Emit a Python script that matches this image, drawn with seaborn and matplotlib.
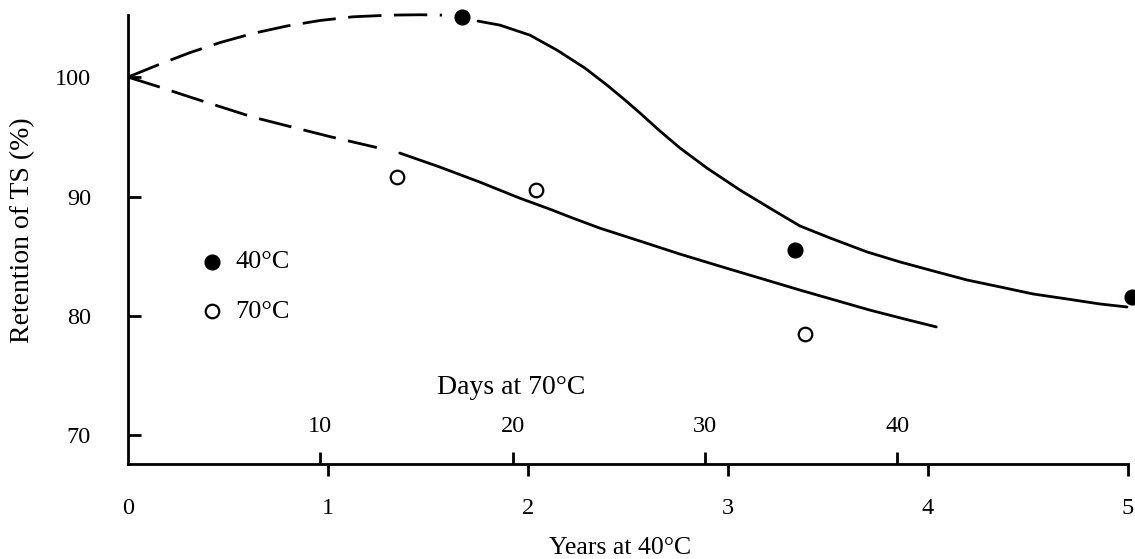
import numpy as np
import matplotlib
matplotlib.use("Agg")
import matplotlib.pyplot as plt
import seaborn as sns

# Time-scale equivalence between the two ageing temperatures
DAYS_PER_YEAR = 10.4

# Measured retention of tensile strength (%)
years_40c = [1.67, 3.335, 5.02]
retention_40c = [105.05, 85.5, 81.6]
days_70c = [14.0, 21.2, 35.2]
retention_70c = [91.6, 90.55, 78.45]

# Trend curve for 40 degC ageing (years): extrapolated part, then fitted part
trend40_dash_years = [0.0, 0.16, 0.31, 0.46, 0.625, 0.795, 0.96, 1.125,
                      1.31, 1.46, 1.57]
trend40_dash_ret = [100.0, 101.09, 102.05, 102.89, 103.66, 104.28, 104.74,
                    105.05, 105.19, 105.22, 105.19]
trend40_solid_years = [1.75, 1.86, 2.01, 2.145, 2.285, 2.395, 2.485, 2.56,
                       2.66, 2.76, 2.895, 3.06, 3.225, 3.36, 3.51, 3.695,
                       3.86, 4.025, 4.195, 4.36, 4.525, 4.695, 4.86, 4.995]
trend40_solid_ret = [104.69, 104.35, 103.51, 102.26, 100.75, 99.33, 98.08,
                     96.99, 95.48, 94.06, 92.38, 90.54, 88.87, 87.53, 86.53,
                     85.36, 84.52, 83.77, 83.01, 82.43, 81.84, 81.42, 81.0,
                     80.75]

# Trend curve for 70 degC ageing (days)
trend70_dash_days = [0.0, 1.66, 3.22, 4.78, 6.49, 8.42, 10.49, 12.94]
trend70_dash_ret = [100.0, 99.16, 98.33, 97.53, 96.65, 95.86, 95.02, 94.1]
trend70_solid_days = [14.13, 16.21, 18.29, 20.36, 21.92, 23.12, 24.52, 26.6,
                      28.68, 30.91, 32.83, 34.91, 36.73, 38.55, 40.36, 42.03]
trend70_solid_ret = [93.64, 92.47, 91.21, 89.87, 88.95, 88.2, 87.36, 86.28,
                     85.19, 84.1, 83.18, 82.18, 81.34, 80.5, 79.75, 79.08]

year_ticks = [0, 1, 2, 3, 4, 5]
day_ticks = [10, 20, 30, 40]
ret_ticks = [70, 80, 90, 100]

sns.set_theme(style="white")
plt.rcParams["font.family"] = ["Liberation Serif", "DejaVu Serif"]
plt.rcParams["text.color"] = "black"
plt.rcParams["axes.labelcolor"] = "black"
plt.rcParams["xtick.color"] = "black"
plt.rcParams["ytick.color"] = "black"

W, H = 1135, 559
fig = plt.figure(figsize=(W / 100, H / 100), dpi=100)
ax = fig.add_axes([128 / W, 1 - 464 / H, 1000 / W, 449 / H])

ink = "black"
lw = 2.0
dash = (0, (12, 4.5))
line_kw = dict(color=ink, linewidth=lw, estimator=None, sort=False,
               legend=False, ax=ax, clip_on=False)

sns.lineplot(x=trend40_dash_years, y=trend40_dash_ret, linestyle=dash, **line_kw)
sns.lineplot(x=trend40_solid_years, y=trend40_solid_ret, **line_kw)
sns.lineplot(x=np.array(trend70_dash_days) / DAYS_PER_YEAR, y=trend70_dash_ret,
             linestyle=dash, **line_kw)
sns.lineplot(x=np.array(trend70_solid_days) / DAYS_PER_YEAR, y=trend70_solid_ret,
             **line_kw)

sns.scatterplot(x=years_40c, y=retention_40c, ax=ax, color=ink, s=135,
                edgecolor=ink, linewidth=0, clip_on=False, zorder=5,
                label="40°C")
sns.scatterplot(x=np.array(days_70c) / DAYS_PER_YEAR, y=retention_70c, ax=ax,
                facecolor="white", edgecolor=ink, s=95, linewidth=1.6,
                clip_on=False, zorder=5, label="70°C")

ax.set_xlim(0, 5)
ax.set_ylim(67.6, 105.2)
sns.despine(ax=ax)
for side in ("left", "bottom"):
    ax.spines[side].set_color(ink)
    ax.spines[side].set_linewidth(lw)

# Bottom axis: years at 40 degC
ax.set_xticks(year_ticks)
ax.set_xticklabels([str(t) for t in year_ticks])
ax.tick_params(axis="x", direction="out", length=8.6, width=lw, pad=16,
               labelsize=17.5, bottom=True)
ax.xaxis.get_major_ticks()[0].tick1line.set_visible(False)
ax.set_xlabel("Years at 40°C", fontsize=18.5)
ax.xaxis.set_label_coords((620 - 128) / 1000, (464 - 548) / 449)
ax.xaxis.label.set_verticalalignment("center")

# Left axis: retention
ax.set_yticks(ret_ticks)
ax.set_yticklabels([str(t) for t in ret_ticks])
ax.tick_params(axis="y", direction="in", length=9.4, width=lw, pad=26.6,
               labelsize=17.5, left=True)
ax.set_ylabel("Retention of TS (%)", fontsize=20)
ax.yaxis.set_label_coords((23 - 128) / 1000, (464 - 230) / 449)
ax.yaxis.label.set_verticalalignment("center")

# Inner scale: days at 70 degC, ticks pointing up from the year axis
sec = ax.secondary_xaxis(0.0, functions=(lambda y: y * DAYS_PER_YEAR,
                                         lambda d: d / DAYS_PER_YEAR))
sec.set_xticks(day_ticks)
sec.xaxis.set_ticks_position("top")
sec.tick_params(axis="x", direction="out", length=8.6, width=lw, pad=11,
                labelsize=17.5, top=True, bottom=False, labeltop=True,
                labelbottom=False, colors=ink)
for side in ("top", "bottom"):
    sec.spines[side].set_visible(False)
sec.set_xlabel("Days at 70°C", fontsize=20)
sec.xaxis.set_label_position("top")
sec.xaxis.set_label_coords((511 - 128) / 1000, (464 - 388) / 449,
                           transform=ax.transAxes)
sec.xaxis.label.set_verticalalignment("center")

ax.legend(loc="upper left", bbox_to_anchor=(204 / W, 1 - 250 / H),
          bbox_transform=fig.transFigure, frameon=False, fontsize=19,
          handlelength=0.6, handletextpad=0.58, labelspacing=0.98,
          borderpad=0, borderaxespad=0)

fig.savefig("out.png", dpi=100, facecolor="white")
